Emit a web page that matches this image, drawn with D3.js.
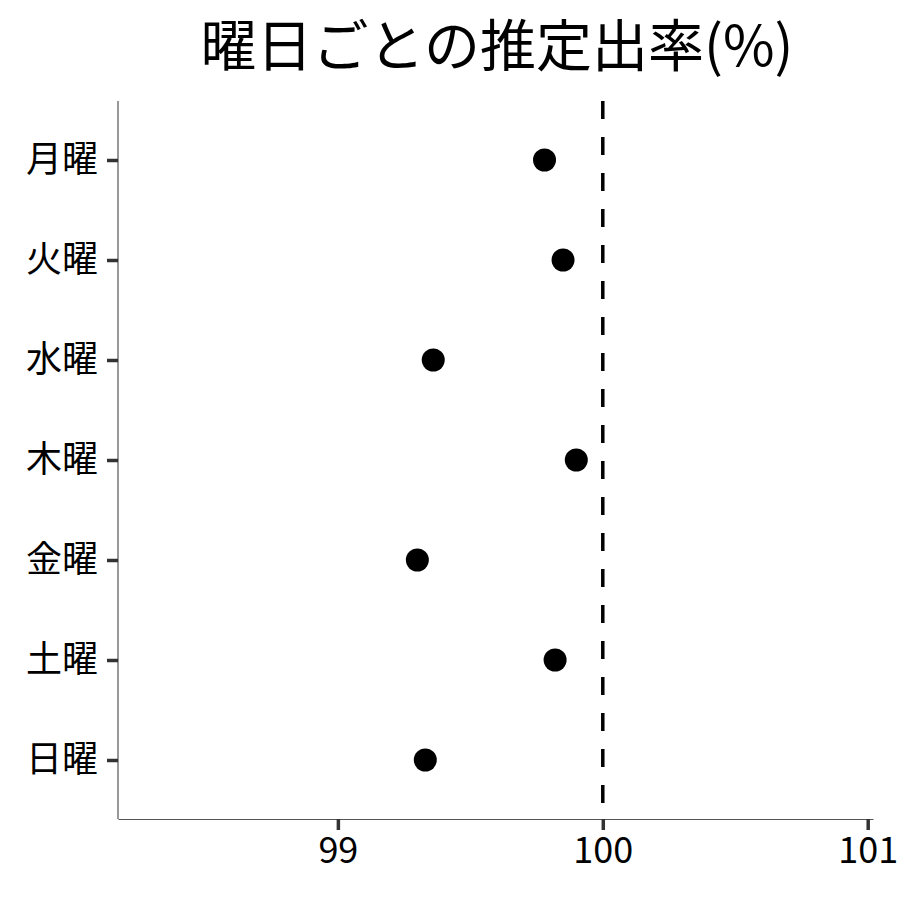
<!DOCTYPE html>
<html>
<head>
<meta charset="utf-8">
<script src="https://cdn.jsdelivr.net/npm/d3@7"></script>
<style>
  html, body { margin: 0; padding: 0; background: #fff; }
  text { font-family: "Noto Sans CJK JP", "Noto Sans", sans-serif; }
</style>
</head>
<body>
<div id="chart"></div>
<script>
// data
const days = ["月曜", "火曜", "水曜", "木曜", "金曜", "土曜", "日曜"];
const rates = [99.78, 99.85, 99.36, 99.90, 99.30, 99.82, 99.33];
const xTicks = [99, 100, 101];
const refValue = 100;

const width = 900, height = 900;
const margin = { top: 101, right: 27, bottom: 81, left: 118 };

const svg = d3.select("#chart").append("svg")
  .attr("width", width)
  .attr("height", height)
  .style("background", "#fff");

const x = d3.scaleLinear()
  .domain([98.17, 101.02])
  .range([margin.left, width - margin.right]);

const y = d3.scalePoint()
  .domain(days)
  .range([160, 760]);

// x axis
const xAxis = svg.append("g")
  .attr("transform", `translate(0,${height - margin.bottom})`)
  .call(d3.axisBottom(x).tickValues(xTicks).tickSizeInner(11).tickSizeOuter(0).tickPadding(7).tickFormat(d3.format("d")));
xAxis.select(".domain").attr("stroke", "#555").attr("stroke-width", 1.2);
xAxis.selectAll(".tick line").attr("stroke", "#333").attr("stroke-width", 3.5);
xAxis.selectAll(".tick text")
  .attr("fill", "#000")
  .style("font-size", "36px");

// y axis
const yAxis = svg.append("g")
  .attr("transform", `translate(${margin.left},0)`)
  .call(d3.axisLeft(y).tickSizeInner(11).tickSizeOuter(0).tickPadding(9));
yAxis.select(".domain")
  .attr("d", `M0,${margin.top}V${height - margin.bottom}`)
  .attr("stroke", "#555").attr("stroke-width", 1.2);
yAxis.selectAll(".tick line").attr("stroke", "#333").attr("stroke-width", 3.5);
yAxis.selectAll(".tick text")
  .attr("fill", "#000")
  .style("font-size", "36px");

// reference line
svg.append("line")
  .attr("x1", x(refValue)).attr("x2", x(refValue))
  .attr("y1", margin.top).attr("y2", height - margin.bottom)
  .attr("stroke", "#000")
  .attr("stroke-width", 3.5)
  .attr("stroke-dasharray", "18,18");

// points
svg.selectAll(".pt")
  .data(days)
  .enter()
  .append("circle")
  .attr("class", "pt")
  .attr("cx", (d, i) => x(rates[i]))
  .attr("cy", d => y(d))
  .attr("r", 11.5)
  .attr("fill", "#000");

// title
svg.append("text")
  .attr("x", 497)
  .attr("y", 66)
  .attr("text-anchor", "middle")
  .style("font-size", "56px")
  .attr("fill", "#000")
  .text("曜日ごとの推定出率(%)");
</script>
</body>
</html>
